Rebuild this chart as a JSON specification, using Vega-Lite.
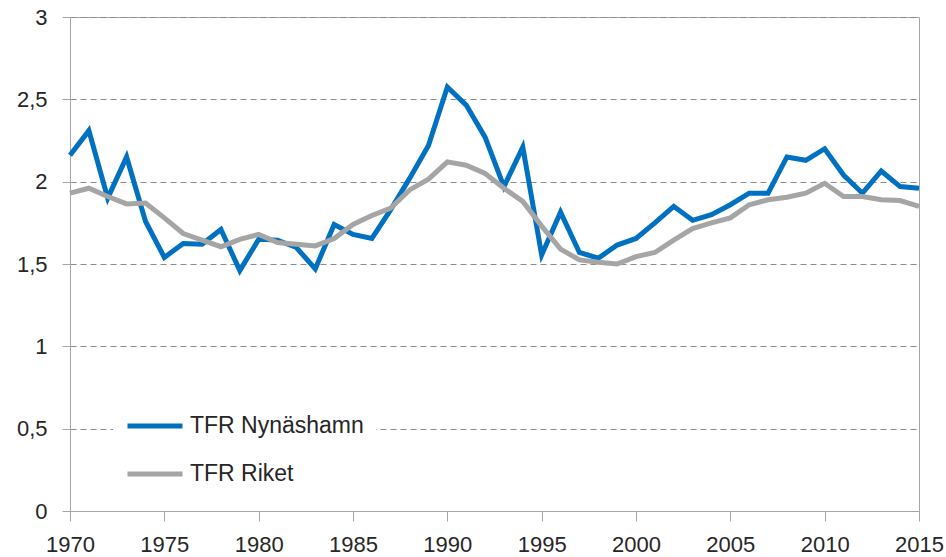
{
  "$schema": "https://vega.github.io/schema/vega-lite/v6.json",
  "width": 849,
  "height": 494,
  "autosize": {"type": "none"},
  "padding": {"left": 70, "top": 17, "right": 27, "bottom": 46},
  "background": "white",
  "config": {
    "view": {"stroke": "#A6A6A6", "strokeWidth": 1},
    "font": "Liberation Sans",
    "axis": {
      "labelFont": "Liberation Sans",
      "labelFontSize": 22,
      "labelColor": "#262626",
      "domainColor": "#A6A6A6",
      "tickColor": "#A6A6A6",
      "title": null
    }
  },
  "data": {
    "values": [
      {"year": 1970, "series": "TFR Nynäshamn", "tfr": 2.16},
      {"year": 1971, "series": "TFR Nynäshamn", "tfr": 2.31},
      {"year": 1972, "series": "TFR Nynäshamn", "tfr": 1.90},
      {"year": 1973, "series": "TFR Nynäshamn", "tfr": 2.15},
      {"year": 1974, "series": "TFR Nynäshamn", "tfr": 1.76},
      {"year": 1975, "series": "TFR Nynäshamn", "tfr": 1.54},
      {"year": 1976, "series": "TFR Nynäshamn", "tfr": 1.625},
      {"year": 1977, "series": "TFR Nynäshamn", "tfr": 1.62},
      {"year": 1978, "series": "TFR Nynäshamn", "tfr": 1.71},
      {"year": 1979, "series": "TFR Nynäshamn", "tfr": 1.46},
      {"year": 1980, "series": "TFR Nynäshamn", "tfr": 1.65},
      {"year": 1981, "series": "TFR Nynäshamn", "tfr": 1.645},
      {"year": 1982, "series": "TFR Nynäshamn", "tfr": 1.60},
      {"year": 1983, "series": "TFR Nynäshamn", "tfr": 1.47},
      {"year": 1984, "series": "TFR Nynäshamn", "tfr": 1.74},
      {"year": 1985, "series": "TFR Nynäshamn", "tfr": 1.68},
      {"year": 1986, "series": "TFR Nynäshamn", "tfr": 1.655},
      {"year": 1987, "series": "TFR Nynäshamn", "tfr": 1.83},
      {"year": 1988, "series": "TFR Nynäshamn", "tfr": 2.02},
      {"year": 1989, "series": "TFR Nynäshamn", "tfr": 2.22},
      {"year": 1990, "series": "TFR Nynäshamn", "tfr": 2.575},
      {"year": 1991, "series": "TFR Nynäshamn", "tfr": 2.465},
      {"year": 1992, "series": "TFR Nynäshamn", "tfr": 2.27},
      {"year": 1993, "series": "TFR Nynäshamn", "tfr": 1.97},
      {"year": 1994, "series": "TFR Nynäshamn", "tfr": 2.21},
      {"year": 1995, "series": "TFR Nynäshamn", "tfr": 1.555},
      {"year": 1996, "series": "TFR Nynäshamn", "tfr": 1.815},
      {"year": 1997, "series": "TFR Nynäshamn", "tfr": 1.57},
      {"year": 1998, "series": "TFR Nynäshamn", "tfr": 1.535},
      {"year": 1999, "series": "TFR Nynäshamn", "tfr": 1.615},
      {"year": 2000, "series": "TFR Nynäshamn", "tfr": 1.655},
      {"year": 2001, "series": "TFR Nynäshamn", "tfr": 1.75},
      {"year": 2002, "series": "TFR Nynäshamn", "tfr": 1.85},
      {"year": 2003, "series": "TFR Nynäshamn", "tfr": 1.765},
      {"year": 2004, "series": "TFR Nynäshamn", "tfr": 1.80},
      {"year": 2005, "series": "TFR Nynäshamn", "tfr": 1.86},
      {"year": 2006, "series": "TFR Nynäshamn", "tfr": 1.93},
      {"year": 2007, "series": "TFR Nynäshamn", "tfr": 1.93},
      {"year": 2008, "series": "TFR Nynäshamn", "tfr": 2.15},
      {"year": 2009, "series": "TFR Nynäshamn", "tfr": 2.13},
      {"year": 2010, "series": "TFR Nynäshamn", "tfr": 2.20},
      {"year": 2011, "series": "TFR Nynäshamn", "tfr": 2.04},
      {"year": 2012, "series": "TFR Nynäshamn", "tfr": 1.93},
      {"year": 2013, "series": "TFR Nynäshamn", "tfr": 2.065},
      {"year": 2014, "series": "TFR Nynäshamn", "tfr": 1.97},
      {"year": 2015, "series": "TFR Nynäshamn", "tfr": 1.96},
      {"year": 1970, "series": "TFR Riket", "tfr": 1.93},
      {"year": 1971, "series": "TFR Riket", "tfr": 1.96},
      {"year": 1972, "series": "TFR Riket", "tfr": 1.91},
      {"year": 1973, "series": "TFR Riket", "tfr": 1.865},
      {"year": 1974, "series": "TFR Riket", "tfr": 1.87},
      {"year": 1975, "series": "TFR Riket", "tfr": 1.78},
      {"year": 1976, "series": "TFR Riket", "tfr": 1.685},
      {"year": 1977, "series": "TFR Riket", "tfr": 1.645},
      {"year": 1978, "series": "TFR Riket", "tfr": 1.605},
      {"year": 1979, "series": "TFR Riket", "tfr": 1.65},
      {"year": 1980, "series": "TFR Riket", "tfr": 1.68},
      {"year": 1981, "series": "TFR Riket", "tfr": 1.63},
      {"year": 1982, "series": "TFR Riket", "tfr": 1.62},
      {"year": 1983, "series": "TFR Riket", "tfr": 1.61},
      {"year": 1984, "series": "TFR Riket", "tfr": 1.655},
      {"year": 1985, "series": "TFR Riket", "tfr": 1.74},
      {"year": 1986, "series": "TFR Riket", "tfr": 1.795},
      {"year": 1987, "series": "TFR Riket", "tfr": 1.84},
      {"year": 1988, "series": "TFR Riket", "tfr": 1.95},
      {"year": 1989, "series": "TFR Riket", "tfr": 2.015},
      {"year": 1990, "series": "TFR Riket", "tfr": 2.12},
      {"year": 1991, "series": "TFR Riket", "tfr": 2.10},
      {"year": 1992, "series": "TFR Riket", "tfr": 2.05},
      {"year": 1993, "series": "TFR Riket", "tfr": 1.96},
      {"year": 1994, "series": "TFR Riket", "tfr": 1.88},
      {"year": 1995, "series": "TFR Riket", "tfr": 1.73},
      {"year": 1996, "series": "TFR Riket", "tfr": 1.59},
      {"year": 1997, "series": "TFR Riket", "tfr": 1.525},
      {"year": 1998, "series": "TFR Riket", "tfr": 1.51},
      {"year": 1999, "series": "TFR Riket", "tfr": 1.50},
      {"year": 2000, "series": "TFR Riket", "tfr": 1.545},
      {"year": 2001, "series": "TFR Riket", "tfr": 1.57},
      {"year": 2002, "series": "TFR Riket", "tfr": 1.645},
      {"year": 2003, "series": "TFR Riket", "tfr": 1.715},
      {"year": 2004, "series": "TFR Riket", "tfr": 1.75},
      {"year": 2005, "series": "TFR Riket", "tfr": 1.78},
      {"year": 2006, "series": "TFR Riket", "tfr": 1.86},
      {"year": 2007, "series": "TFR Riket", "tfr": 1.89},
      {"year": 2008, "series": "TFR Riket", "tfr": 1.905},
      {"year": 2009, "series": "TFR Riket", "tfr": 1.93},
      {"year": 2010, "series": "TFR Riket", "tfr": 1.99},
      {"year": 2011, "series": "TFR Riket", "tfr": 1.91},
      {"year": 2012, "series": "TFR Riket", "tfr": 1.91},
      {"year": 2013, "series": "TFR Riket", "tfr": 1.89},
      {"year": 2014, "series": "TFR Riket", "tfr": 1.885},
      {"year": 2015, "series": "TFR Riket", "tfr": 1.85}
    ]
  },
  "mark": {"type": "line", "strokeWidth": 5, "strokeJoin": "miter", "strokeCap": "butt"},
  "encoding": {
    "x": {
      "field": "year",
      "type": "quantitative",
      "scale": {"domain": [1970, 2015], "nice": false, "zero": false},
      "axis": {
        "values": [1970, 1975, 1980, 1985, 1990, 1995, 2000, 2005, 2010, 2015],
        "format": "d",
        "grid": false,
        "tickSize": 10,
        "labelPadding": 13,
        "labelFlush": false,
        "labelOverlap": false
      }
    },
    "y": {
      "field": "tfr",
      "type": "quantitative",
      "scale": {"domain": [0, 3], "nice": false},
      "axis": {
        "values": [0, 0.5, 1, 1.5, 2, 2.5, 3],
        "labelExpr": "replace(format(datum.value, '.1~f'), '.', ',')",
        "grid": true,
        "gridColor": "#8C8C8C",
        "gridDash": [6, 4],
        "gridWidth": 1,
        "tickSize": 8,
        "labelPadding": 15
      }
    },
    "color": {
      "field": "series",
      "type": "nominal",
      "sort": ["TFR Nynäshamn", "TFR Riket"],
      "scale": {"domain": ["TFR Nynäshamn", "TFR Riket"], "range": ["#0070C0", "#A5A5A5"]},
      "legend": {
        "title": null,
        "orient": "none",
        "legendX": 43,
        "legendY": 367,
        "fillColor": "white",
        "padding": 12,
        "symbolType": "stroke",
        "symbolSize": 3025,
        "symbolStrokeWidth": 5,
        "labelFont": "Liberation Sans",
        "labelFontSize": 23,
        "labelColor": "#262626",
        "labelOffset": 5,
        "labelLimit": 0,
        "rowPadding": 6
      }
    }
  }
}
